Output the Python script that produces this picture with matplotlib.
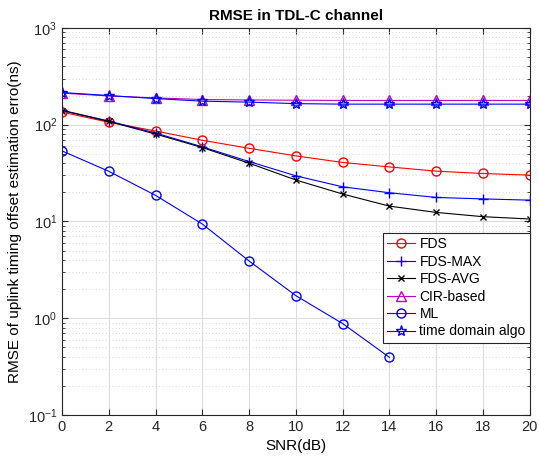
import matplotlib
matplotlib.use("Agg")
import matplotlib.pyplot as plt
import numpy as np

plt.rcParams.update({
    'font.family': ['Liberation Sans', 'DejaVu Sans'],
    'font.size': 10,
    'mathtext.fontset': 'custom',
    'mathtext.rm': 'Liberation Sans',
    'mathtext.it': 'Liberation Sans',
    'mathtext.default': 'regular',
})

snr = [0, 2, 4, 6, 8, 10, 12, 14, 16, 18, 20]
fds = [135, 106, 86, 69, 57, 47.6, 40.7, 36.6, 33.1, 31.3, 30.1]
fds_max = [141, 109, 82, 59, 41.6, 29.6, 22.8, 19.8, 17.7, 17.1, 16.6]
fds_avg = [140, 108, 80, 58, 40, 26.8, 19.2, 14.4, 12.4, 11.2, 10.6]
cir = [212, 198, 189, 182, 180, 179, 178, 178, 178, 178, 178]
snr_ml = [0, 2, 4, 6, 8, 10, 12, 14]
ml = [53.6, 33, 18.6, 9.4, 3.9, 1.71, 0.88, 0.394]
time_algo = [215, 200, 186, 175, 171, 165, 163, 163, 163, 163, 163]

fig = plt.figure(figsize=(5.39, 4.65), dpi=100)
ax = fig.add_axes([0.115, 0.1075, 0.868, 0.8325])

lw = 0.8
ms = 6.5
ax.semilogy(snr, fds, '-o', color='r', mfc='none', lw=lw, ms=ms, label='FDS')
ax.semilogy(snr, fds_max, '-+', color='b', lw=lw, ms=ms + 1, label='FDS-MAX')
ax.semilogy(snr, fds_avg, '-x', color='k', lw=lw, ms=ms - 2, label='FDS-AVG')
ax.semilogy(snr, cir, '-^', color='m', mfc='none', lw=lw, ms=ms, label='CIR-based')
ax.semilogy(snr_ml, ml, '-o', color='b', mfc='none', lw=lw, ms=ms, label='ML')
ax.semilogy(snr, time_algo, '-*', color='b', mfc='none', lw=lw, ms=ms + 1.5,
            label='time domain algo')

ax.set_xlim(0, 20)
ax.set_ylim(0.1, 1000)
ax.set_xticks(np.arange(0, 21, 2))
ax.tick_params(which='both', direction='in', top=True, right=True, colors='#262626')
ax.tick_params(which='major', length=4, labelsize=10.5)
ax.tick_params(which='minor', length=2)
ax.grid(True, which='major', color='#dcdcdc', lw=0.8)
ax.grid(True, which='minor', color='#cfcfcf', lw=0.6, ls=(0, (1, 3)))
ax.set_axisbelow(True)
for s in ax.spines.values():
    s.set_color('#262626')
    s.set_linewidth(0.8)

ax.set_xlabel('SNR(dB)', fontsize=11)
ax.set_ylabel('RMSE of uplink timing offset estimation erro(ns)', fontsize=11)
ax.set_title('RMSE in TDL-C channel', fontweight='bold', fontsize=11)

leg = ax.legend(loc='lower right', bbox_to_anchor=(1, 0.187), borderaxespad=0,
                fancybox=False, edgecolor='#262626', framealpha=1,
                handlelength=2.0, handletextpad=0.3, labelspacing=0.25,
                borderpad=0.3, fontsize=10)
leg.get_frame().set_linewidth(0.8)

fig.savefig('out.png', dpi=100)
